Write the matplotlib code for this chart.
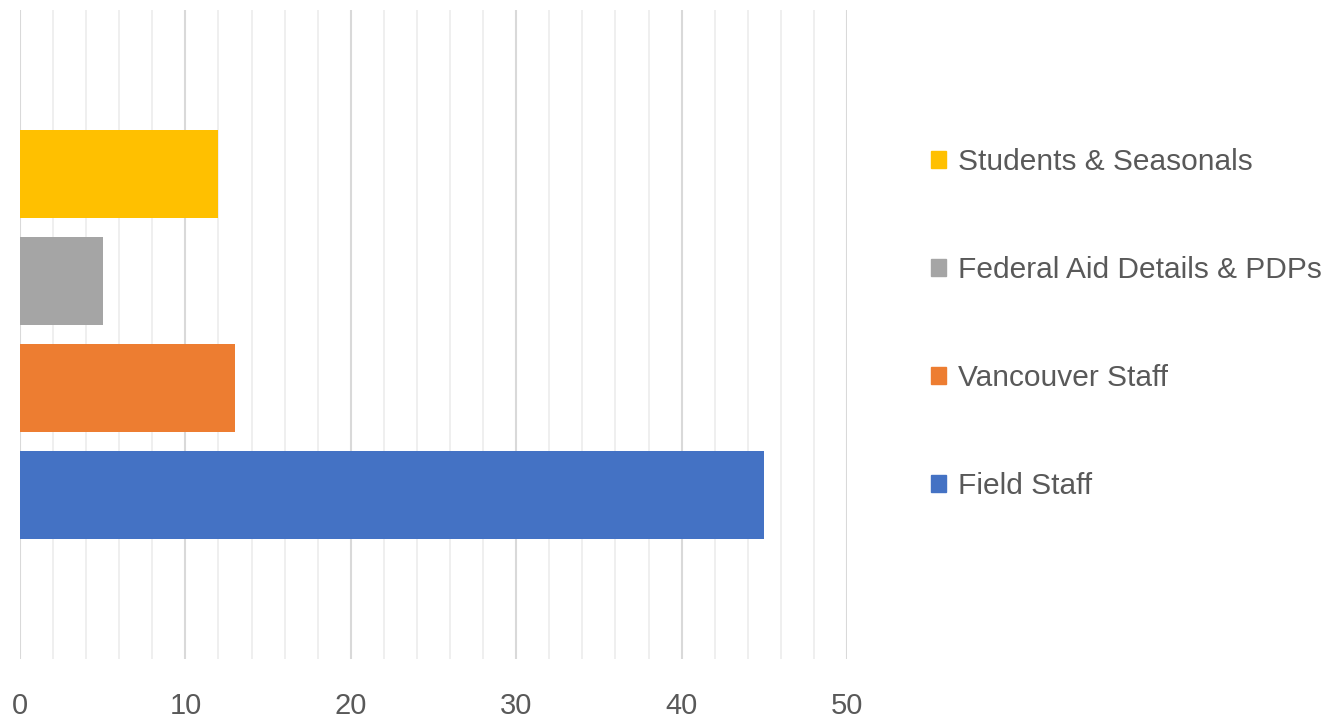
import matplotlib
matplotlib.use("Agg")
import matplotlib.pyplot as plt
from matplotlib.patches import Patch

plt.rcParams['font.family'] = ['Liberation Sans', 'DejaVu Sans']

# series, bottom to top
labels = ["Field Staff", "Vancouver Staff", "Federal Aid Details & PDPs", "Students & Seasonals"]
values = [45, 13, 5, 12]
colors = ["#4472c4", "#ed7d31", "#a5a5a5", "#ffc000"]

fig = plt.figure(figsize=(13.43, 7.19), dpi=100)
ax = fig.add_axes([0.0149, 0.0834, 0.6158, 0.9027])

pos = list(range(len(values)))
ax.barh(pos, values, height=0.82, color=colors, zorder=3)

ax.set_xlim(0, 50)
ax.set_ylim(-1.53, 4.53)
ax.set_xticks(range(0, 51, 10))
ax.set_xticks(range(0, 51, 2), minor=True)
ax.grid(axis="x", which="minor", color="#eeeeee", lw=1.3, zorder=0)
ax.grid(axis="x", which="major", color="#d9d9d9", lw=1.5, zorder=1)
ax.set_yticks([])
for s in ax.spines.values():
    s.set_visible(False)
ax.tick_params(axis="x", which="both", length=0, labelsize=21, colors="#595959", pad=24)

handles = [Patch(color=c, label=l) for c, l in zip(colors, labels)][::-1]
leg = fig.legend(handles=handles, loc="center left", bbox_to_anchor=(0.673, 0.549),
                 frameon=False, fontsize=21.5, labelspacing=2.68,
                 handlelength=0.52, handleheight=0.52, handletextpad=0.4)
for t in leg.get_texts():
    t.set_color("#595959")

fig.savefig("out.png", dpi=100)
